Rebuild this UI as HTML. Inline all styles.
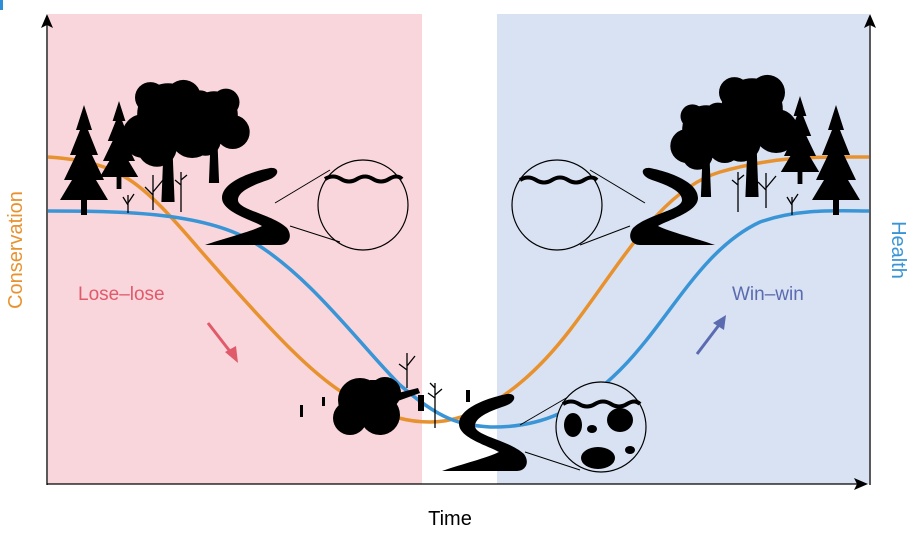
<!DOCTYPE html>
<html><head><meta charset="utf-8"><style>
html,body{margin:0;padding:0;background:#fff;width:916px;height:540px;overflow:hidden}
svg{display:block}
text{font-family:"Liberation Sans",sans-serif}
</style></head><body>
<svg width="916" height="540" viewBox="0 0 916 540">
<defs>
<g id="pine">
<path d="M0,-80 L-8,-55 L-4,-55 L-14,-30 L-8,-30 L-20,-5 L-12,-5 L-24,15 L-3,15 L-3,30 L3,30 L3,15 L24,15 L12,-5 L20,-5 L8,-30 L14,-30 L4,-55 L8,-55 Z"/>
</g>
<g id="oak">
<circle cx="0" cy="-60" r="28"/><circle cx="-22" cy="-40" r="20"/><circle cx="22" cy="-40" r="20"/><circle cx="-10" cy="-30" r="18"/><circle cx="14" cy="-75" r="16"/><circle cx="-16" cy="-75" r="14"/>
<path d="M-4,-30 L-6,20 L6,20 L4,-30 Z"/>
</g>
<path id="river" d="M270,168 C280,167 280,176 268,180 C250,186 238,192 238,200 C238,210 272,214 287,228 C293,236 289,245 280,245 L205,245 C225,238 250,232 262,226 C252,220 222,212 222,198 C222,182 250,172 270,168 Z"/>
</defs>
<rect x="0" y="0" width="3" height="10" fill="#2e8fd6"/>
<rect x="48" y="14" width="374" height="470" fill="#f9d6dc"/>
<rect x="497" y="14" width="372" height="470" fill="#d9e2f3"/>
<!-- axes -->
<line x1="47" y1="485" x2="47" y2="22" stroke="#000" stroke-width="1.3"/>
<path d="M41,28 L47,14 L53,28 L47,25 Z"/>
<line x1="870" y1="485" x2="870" y2="22" stroke="#000" stroke-width="1.3"/>
<path d="M864,28 L870,14 L876,28 L870,25 Z"/>
<line x1="47" y1="484" x2="860" y2="484" stroke="#000" stroke-width="1.3"/>
<path d="M854,478 L868,484 L854,490 L857,484 Z"/>
<!-- curves -->
<path d="M48,157 C120,162 140,180 200,250 C270,330 320,385 360,402 C390,418 410,422 430,422 C470,422 520,395 570,330 C620,265 660,190 720,172 C780,155 820,157 869,157" fill="none" stroke="#e8922f" stroke-width="3.5"/>
<path d="M48,211 C120,211 200,212 250,240 C310,275 360,345 400,385 C440,420 460,425 490,427 C540,428 580,410 620,370 C670,320 700,250 760,222 C800,208 840,211 869,211" fill="none" stroke="#3a95d6" stroke-width="3.5"/>
<!-- left panel trees -->
<use href="#pine" transform="translate(84,185)"/>
<use href="#pine" transform="translate(119,165) scale(0.8)"/>
<use href="#oak" transform="translate(168,180) scale(1.1)"/>
<use href="#oak" transform="translate(214,166) scale(0.85)"/>
<g stroke="#000" stroke-width="1.3" fill="none"><path d="M128,213 l0,-18 M128,205 l-5,-8 M128,203 l6,-9 M153,210 l0,-35 M153,195 l-8,-8 M153,192 l10,-12 M181,212 l0,-40 M181,185 l-6,-5 M181,180 l6,-5"/></g>
<use href="#river"/>
<line x1="275" y1="203" x2="330" y2="170" stroke="#000"/>
<line x1="290" y1="226" x2="340" y2="242" stroke="#000"/>
<circle cx="363" cy="205" r="45" fill="none" stroke="#000" stroke-width="1.2"/>
<path d="M325,179 q8,-5 16,0 t16,0 t16,0 t16,0 t13,0" fill="none" stroke="#000" stroke-width="4"/>
<!-- degraded -->
<g>
<circle cx="360" cy="400" r="22"/><circle cx="380" cy="415" r="20"/><circle cx="350" cy="418" r="17"/><circle cx="385" cy="393" r="16"/>
<rect x="370" y="380" width="6" height="35"/>
<path d="M390,395 L418,388 L420,393 L395,402 Z"/>
</g>
<rect x="300" y="405" width="3" height="12"/><rect x="322" y="397" width="3" height="9"/><rect x="418" y="395" width="6" height="16"/><rect x="466" y="390" width="4" height="12"/>
<g stroke="#000" stroke-width="1.3" fill="none"><path d="M407,388 l0,-35 M407,370 l-8,-6 M407,366 l8,-10 M435,428 l0,-45 M435,398 l-7,-5 M435,395 l7,-6 M435,388 l-5,-5"/></g>
<use href="#river" transform="translate(237,226)"/>
<line x1="520" y1="425" x2="580" y2="390" stroke="#000"/>
<line x1="525" y1="452" x2="580" y2="470" stroke="#000"/>
<circle cx="601" cy="427" r="45" fill="#d9e2f3" stroke="#000" stroke-width="1.2"/>
<path d="M563,404 q8,-5 16,0 t16,0 t16,0 t16,0 t13,0" fill="none" stroke="#000" stroke-width="4"/>
<ellipse cx="573" cy="425" rx="9" ry="12"/><ellipse cx="620" cy="420" rx="13" ry="12"/><ellipse cx="598" cy="458" rx="17" ry="11"/><ellipse cx="592" cy="429" rx="5" ry="4"/><ellipse cx="630" cy="450" rx="5" ry="4"/>
<!-- right panel -->
<use href="#river" transform="translate(920,0) scale(-1,1)"/>
<line x1="645" y1="203" x2="590" y2="170" stroke="#000"/>
<line x1="630" y1="226" x2="580" y2="245" stroke="#000"/>
<circle cx="557" cy="205" r="45" fill="none" stroke="#000" stroke-width="1.2"/>
<path d="M520,180 q8,-5 16,0 t16,0 t16,0 t16,0 t13,0" fill="none" stroke="#000" stroke-width="4"/>
<use href="#oak" transform="translate(706,180) scale(0.85)"/>
<use href="#oak" transform="translate(752,175) scale(1.1)"/>
<use href="#pine" transform="translate(800,160) scale(0.8)"/>
<use href="#pine" transform="translate(836,185)"/>
<g stroke="#000" stroke-width="1.3" fill="none"><path d="M738,212 l0,-40 M738,185 l-6,-5 M738,180 l6,-5 M766,208 l0,-35 M766,190 l-8,-8 M766,188 l10,-12 M792,215 l0,-18 M792,205 l-5,-8 M792,203 l6,-9"/></g>
<!-- labels -->
<text x="22" y="250" fill="#e8922f" font-size="20" text-anchor="middle" transform="rotate(-90 22 250)">Conservation</text>
<text x="892" y="250" fill="#3a95d6" font-size="20" text-anchor="middle" transform="rotate(90 892 250)">Health</text>
<text x="78" y="300" fill="#e05a6a" font-size="19">Lose–lose</text>
<text x="732" y="300" fill="#5a6bb0" font-size="19">Win–win</text>
<line x1="208" y1="323" x2="232" y2="354" stroke="#e05a6a" stroke-width="3"/>
<path d="M238,363 L225,352 L236,346 Z" fill="#e05a6a"/>
<line x1="697" y1="354" x2="719" y2="325" stroke="#5a6bb0" stroke-width="3"/>
<path d="M726,315 L713,323 L724,330 Z" fill="#5a6bb0"/>
<text x="450" y="525" fill="#000" font-size="20" text-anchor="middle">Time</text>
</svg>
</body></html>
